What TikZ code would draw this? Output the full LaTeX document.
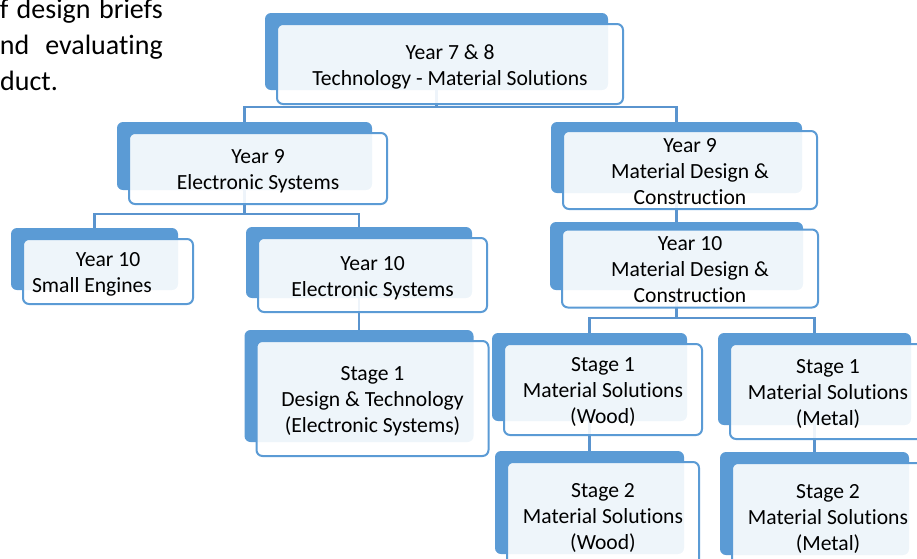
\documentclass[tikz,border=0pt]{standalone}
\usepackage{fontspec}
\setmainfont{Carlito}[Ligatures=NoCommon]
\pgfdeclarelayer{bg}
\pgfsetlayers{bg,main}
\definecolor{boxblue}{HTML}{5B9BD5}
\definecolor{lineblue}{HTML}{5A94CE}
% text of a box, set a little low as in the original
\newcommand{\boxtext}[1]{\raisebox{-3pt}[\height][\depth]{\begin{tabular}{@{}c@{}}#1\end{tabular}}}

\begin{document}
\begin{tikzpicture}[x=1pt, y=-1pt,
  back/.style={fill=boxblue, rounded corners=6pt, inner sep=0pt},
  front/.style={draw=boxblue, line width=2pt, fill=white, fill opacity=0.9, text opacity=1, rounded corners=6pt, inner sep=0pt, font=\fontsize{21.6}{26}\selectfont},
  link/.style={draw=lineblue, line width=2.5pt},
  bodytext/.style={font=\fontsize{28}{36}\selectfont, inner sep=0pt}]
\useasboundingbox (0,0) rectangle (917,558);
\node  (l1)[bodytext, anchor=base east] at (163,18) {\makebox[163pt][s]{f design briefs}};
\node  (l2)[bodytext, anchor=base east] at (163,54) {\makebox[163pt][s]{nd evaluating}};
\node  (l3)[bodytext, anchor=base west] at (0,90) {duct.};
\node  (b78)[back, minimum width=343pt, minimum height=77pt] at (436.5,51.5) {};
\node  (y78)[front, minimum width=346pt, minimum height=80pt] at (450,64) {\boxtext{Year 7 \& 8\\Technology - Material Solutions}};
\node  (by9e)[back, minimum width=255pt, minimum height=68pt] at (244.5,156) {};
\node  (y9e)[front, minimum width=258pt, minimum height=71pt] at (258,168.5) {\boxtext{Year 9\\Electronic Systems}};
\node  (by9m)[back, minimum width=251pt, minimum height=71pt] at (676.5,157.5) {};
\node  (y9m)[front, minimum width=254pt, minimum height=74pt] at (690,170) {\boxtext{Year 9\\Material Design \&\\Construction}};
\node  (by10m)[back, minimum width=253pt, minimum height=68pt] at (676.5,256) {};
\node  (y10m)[front, minimum width=256pt, minimum height=71pt] at (690,268.5) {\boxtext{Year 10\\Material Design \&\\Construction}};
\node  (by10s)[back, minimum width=167pt, minimum height=62pt] at (94.5,259) {};
\node  (y10s)[front, minimum width=170pt, minimum height=65pt] at (108,271.5) {\boxtext{Year 10\\Small Engines\hspace*{32pt}}};
\node  (by10e)[back, minimum width=226pt, minimum height=71pt] at (359,262.5) {};
\node  (y10e)[front, minimum width=229pt, minimum height=74pt] at (372.5,275) {\boxtext{Year 10\\Electronic Systems}};
\node  (bs1e)[back, minimum width=229pt, minimum height=112pt] at (359,386) {};
\node  (s1e)[front, minimum width=232pt, minimum height=115pt] at (372.5,398.5) {\boxtext{Stage 1\\Design \& Technology\\(Electronic Systems)}};
\node  (bs1w)[back, minimum width=195pt, minimum height=88pt] at (589.5,377) {};
\node  (s1w)[front, minimum width=198pt, minimum height=91pt] at (603,389.5) {\boxtext{Stage 1\\Material Solutions\\(Wood)}};
\node  (bs1m)[back, minimum width=193pt, minimum height=92pt] at (814.5,379) {};
\node  (s1m)[front, minimum width=196pt, minimum height=95pt] at (828,391.5) {\boxtext{Stage 1\\Material Solutions\\(Metal)}};
\node  (bs2w)[back, minimum width=189pt, minimum height=103pt] at (589.5,502.5) {};
\node  (s2w)[front, minimum width=192pt, minimum height=106pt] at (603,515) {\boxtext{Stage 2\\Material Solutions\\(Wood)}};
\node  (bs2m)[back, minimum width=189pt, minimum height=103pt] at (814.5,503.5) {};
\node  (s2m)[front, minimum width=192pt, minimum height=106pt] at (828,516) {\boxtext{Stage 2\\Material Solutions\\(Metal)}};
\begin{pgfonlayer}{bg}
\draw[link] (b78.south) -- ++(0,17) -| (by9e.north);
\draw[link] (b78.south) -- ++(0,17) -| (by9m.north);
\draw[link] (by9e.south) -- ++(0,24) -| (by10s.north);
\draw[link] (by9e.south) -- ++(0,24) -| (by10e.north);
\draw[link] (by9m.south) -- (by10m.north);
\draw[link] (by10e.south) -- (bs1e.north);
\draw[link] (by10m.south) -- ++(0,28) -| (bs1w.north);
\draw[link] (by10m.south) -- ++(0,28) -| (bs1m.north);
\draw[link] (bs1w.south) -- (bs2w.north);
\draw[link] (bs1m.south) -- (bs2m.north);
\end{pgfonlayer}
\end{tikzpicture}
\end{document}
